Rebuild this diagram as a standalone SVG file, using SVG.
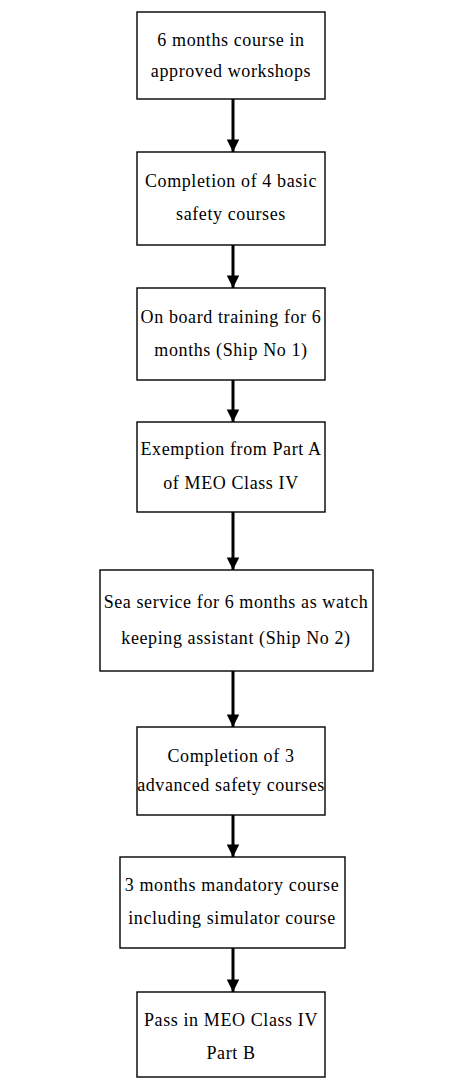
<svg xmlns="http://www.w3.org/2000/svg" width="450" height="1080" viewBox="0 0 450 1080">
  <style>
    .box { fill: #ffffff; stroke: #000000; stroke-width: 1.4; }
    .lbl { font-family: "Liberation Serif", "Times New Roman", serif; font-size: 18px; letter-spacing: 0.6px; fill: #000000; text-anchor: middle; }
    .link { stroke: #000000; stroke-width: 3; fill: none; }
  </style>
  <defs>
    <marker id="head" viewBox="0 0 10 10" refX="10" refY="5" markerWidth="4.2" markerHeight="4.2" markerUnits="strokeWidth" orient="auto">
      <path d="M0,0 L10,5 L0,10 Z" fill="#000000"/>
    </marker>
  </defs>
  <rect width="450" height="1080" fill="#ffffff"/>

  <!-- vertical flow arrows between consecutive steps -->
  <g id="connectors">
    <line class="link" x1="233" y1="99" x2="233" y2="152" marker-end="url(#head)"/>
    <line class="link" x1="233" y1="245" x2="233" y2="288" marker-end="url(#head)"/>
    <line class="link" x1="233" y1="380" x2="233" y2="422" marker-end="url(#head)"/>
    <line class="link" x1="233" y1="512" x2="233" y2="570" marker-end="url(#head)"/>
    <line class="link" x1="233" y1="671" x2="233" y2="727" marker-end="url(#head)"/>
    <line class="link" x1="233" y1="815" x2="233" y2="857" marker-end="url(#head)"/>
    <line class="link" x1="233" y1="948" x2="233" y2="992" marker-end="url(#head)"/>
  </g>

  <g id="workshop-course">
    <rect class="box" x="137" y="12" width="188" height="87"/>
    <text class="lbl" x="231" y="46">6 months course in</text>
    <text class="lbl" x="231" y="77">approved workshops</text>
  </g>

  <g id="basic-safety">
    <rect class="box" x="137" y="152" width="188" height="93"/>
    <text class="lbl" x="231" y="187">Completion of 4 basic</text>
    <text class="lbl" x="231" y="220">safety courses</text>
  </g>

  <g id="onboard-training">
    <rect class="box" x="137" y="288" width="188" height="92"/>
    <text class="lbl" x="231" y="323">On board training for 6</text>
    <text class="lbl" x="231" y="356">months (Ship No 1)</text>
  </g>

  <g id="part-a-exemption">
    <rect class="box" x="137" y="422" width="188" height="90"/>
    <text class="lbl" x="231" y="455">Exemption from Part A</text>
    <text class="lbl" x="231" y="489">of MEO Class IV</text>
  </g>

  <g id="sea-service">
    <rect class="box" x="100" y="570" width="273" height="101"/>
    <text class="lbl" x="236" y="608">Sea service for 6 months as watch</text>
    <text class="lbl" x="236" y="644">keeping assistant (Ship No 2)</text>
  </g>

  <g id="advanced-safety">
    <rect class="box" x="137" y="727" width="188" height="88"/>
    <text class="lbl" x="231" y="762">Completion of 3</text>
    <text class="lbl" x="231" y="791">advanced safety courses</text>
  </g>

  <g id="mandatory-course">
    <rect class="box" x="120" y="857" width="225" height="91"/>
    <text class="lbl" x="232" y="891">3 months mandatory course</text>
    <text class="lbl" x="232" y="924">including simulator course</text>
  </g>

  <g id="part-b-pass">
    <rect class="box" x="137" y="992" width="188" height="85"/>
    <text class="lbl" x="231" y="1026">Pass in MEO Class IV</text>
    <text class="lbl" x="231" y="1059">Part B</text>
  </g>
</svg>
